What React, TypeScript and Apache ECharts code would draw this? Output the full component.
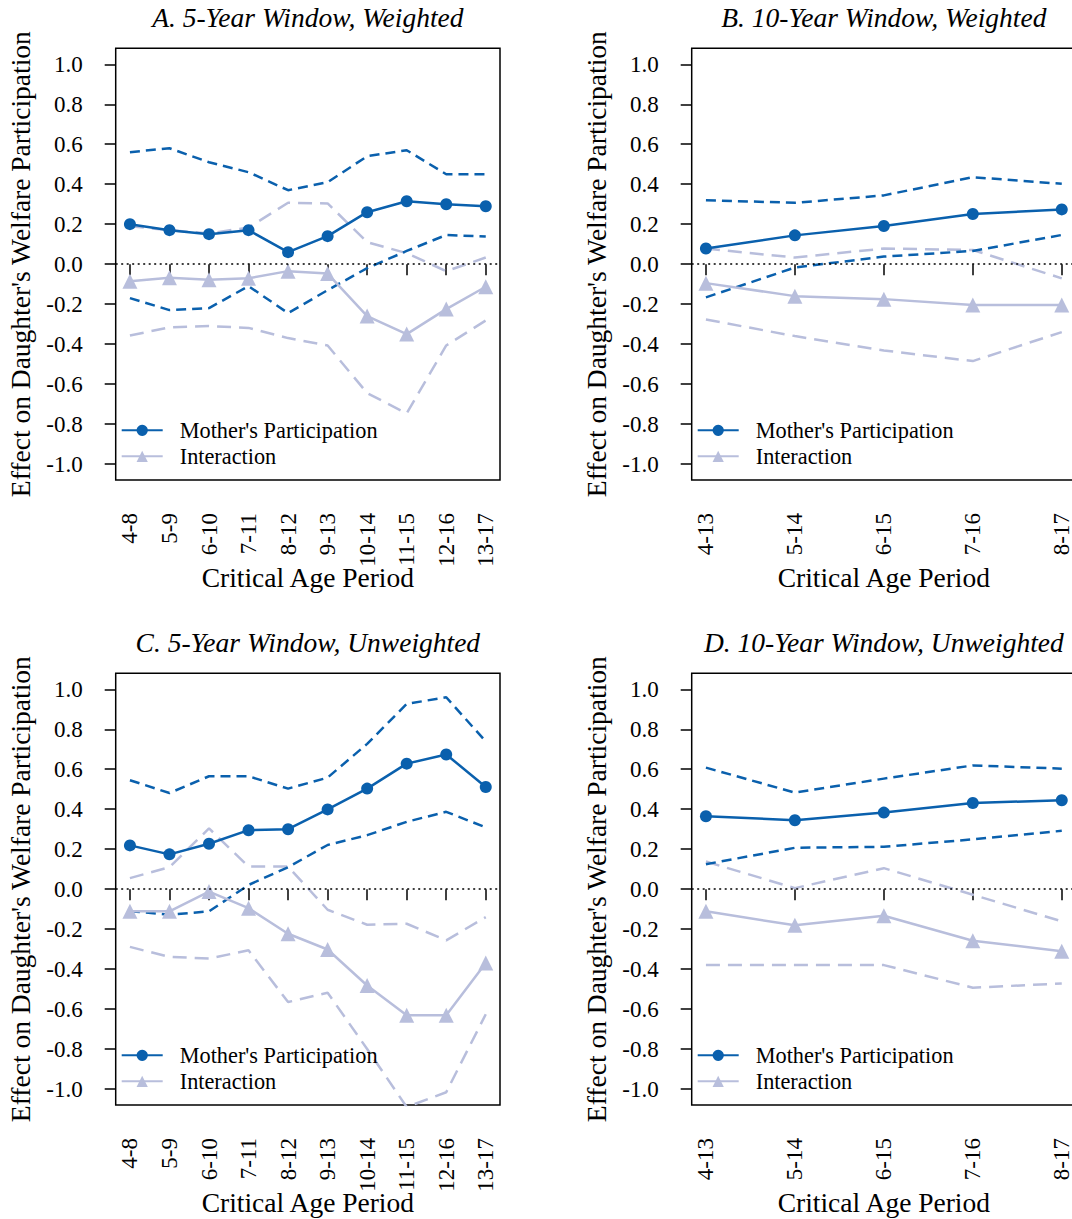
import React, { useEffect, useRef } from "react";
import * as echarts from "echarts";

// ---- categories & ticks ----
const cats5 = ["4-8", "5-9", "6-10", "7-11", "8-12", "9-13", "10-14", "11-15", "12-16", "13-17"];
const cats10 = ["4-13", "5-14", "6-15", "7-16", "8-17"];
const yTicks = [-1.0, -0.8, -0.6, -0.4, -0.2, 0.0, 0.2, 0.4, 0.6, 0.8, 1.0];

const titles = [
  "A. 5-Year Window, Weighted",
  "B. 10-Year Window, Weighted",
  "C. 5-Year Window, Unweighted",
  "D. 10-Year Window, Unweighted",
];
const legendNames = ["Mother's Participation", "Interaction"];
const xTitle = "Critical Age Period";
const yTitle = "Effect on Daughter's Welfare Participation";

// ---- Panel A ----
const aMother = [0.2, 0.17, 0.15, 0.17, 0.06, 0.14, 0.26, 0.315, 0.3, 0.29];
const aMotherHi = [0.56, 0.58, 0.51, 0.46, 0.37, 0.41, 0.54, 0.57, 0.45, 0.45];
const aMotherLo = [-0.17, -0.23, -0.22, -0.11, -0.245, -0.13, -0.02, 0.066, 0.146, 0.138];
const aInter = [-0.085, -0.068, -0.078, -0.071, -0.035, -0.047, -0.26, -0.35, -0.225, -0.113];
const aInterHi = [0.19, 0.17, 0.154, 0.183, 0.307, 0.304, 0.11, 0.055, -0.035, 0.033];
const aInterLo = [-0.357, -0.316, -0.31, -0.319, -0.37, -0.407, -0.645, -0.747, -0.407, -0.282];

// ---- Panel B ----
const bMother = [0.078, 0.144, 0.191, 0.251, 0.274];
const bMotherHi = [0.32, 0.307, 0.344, 0.435, 0.402];
const bMotherLo = [-0.166, -0.017, 0.038, 0.066, 0.146];
const bInter = [-0.095, -0.16, -0.175, -0.205, -0.205];
const bInterHi = [0.078, 0.033, 0.078, 0.071, -0.071];
const bInterLo = [-0.277, -0.36, -0.432, -0.485, -0.34];

// ---- Panel C ----
const cMother = [0.219, 0.174, 0.227, 0.295, 0.3, 0.399, 0.503, 0.628, 0.674, 0.511];
const cMotherHi = [0.545, 0.481, 0.565, 0.565, 0.503, 0.558, 0.727, 0.927, 0.96, 0.739];
const cMotherLo = [-0.11, -0.128, -0.111, 0.021, 0.11, 0.221, 0.27, 0.337, 0.387, 0.309];
const cInter = [-0.111, -0.111, -0.012, -0.095, -0.223, -0.302, -0.482, -0.631, -0.631, -0.369];
const cInterHi = [0.055, 0.11, 0.304, 0.113, 0.113, -0.103, -0.178, -0.173, -0.256, -0.14];
const cInterLo = [-0.289, -0.339, -0.347, -0.306, -0.565, -0.518, -0.8, -1.09, -1.016, -0.626];

// ---- Panel D ----
const dMother = [0.365, 0.345, 0.383, 0.431, 0.445];
const dMotherHi = [0.608, 0.483, 0.553, 0.619, 0.603];
const dMotherLo = [0.125, 0.207, 0.212, 0.249, 0.292];
const dInter = [-0.111, -0.181, -0.133, -0.258, -0.311];
const dInterHi = [0.138, 0.005, 0.105, -0.028, -0.161];
const dInterLo = [-0.38, -0.38, -0.38, -0.493, -0.472];

const DARK = "#0A60AD";
const LIGHT = "#B8BEDC";
const FONT = "Liberation Serif";

const panels = [
  { cats: cats5, m: aMother, mh: aMotherHi, ml: aMotherLo, i: aInter, ih: aInterHi, il: aInterLo },
  { cats: cats10, m: bMother, mh: bMotherHi, ml: bMotherLo, i: bInter, ih: bInterHi, il: bInterLo },
  { cats: cats5, m: cMother, mh: cMotherHi, ml: cMotherLo, i: cInter, ih: cInterHi, il: cInterLo },
  { cats: cats10, m: dMother, mh: dMotherHi, ml: dMotherLo, i: dInter, ih: dInterHi, il: dInterLo },
];

const gridPos = [
  { left: 115.7, top: 48.3 },
  { left: 691.7, top: 48.3 },
  { left: 115.7, top: 673.3 },
  { left: 691.7, top: 673.3 },
];
const GW = 384.3;
const GH = 431.7;

function buildOption() {
  const grid: any[] = [];
  const xAxis: any[] = [];
  const yAxis: any[] = [];
  const series: any[] = [];
  const legend: any[] = [];
  const graphic: any[] = [];

  panels.forEach((p, k) => {
    const n = p.cats.length;
    const pad = (n - 1) * 0.04;
    const xs = p.cats.map((_, j) => j + 1);
    const g = gridPos[k];
    grid.push({
      left: g.left,
      top: g.top,
      width: GW,
      height: GH,
      show: true,
      borderColor: "#000",
      borderWidth: 1.5,
      backgroundColor: "transparent",
      containLabel: false,
      outerBoundsMode: "none",
    });
    xAxis.push({
      type: "value",
      gridIndex: k,
      min: 1 - pad,
      max: n + pad,
      splitLine: { show: false },
      axisLine: { show: false },
      axisTick: { show: true, customValues: xs, length: 11, lineStyle: { color: "#000", width: 1.5 } },
      axisLabel: {
        customValues: xs,
        rotate: 90,
        margin: 33,
        fontSize: 23,
        fontFamily: FONT,
        color: "#000",
        formatter: (v: number) => p.cats[Math.round(v) - 1] ?? "",
      },
      name: xTitle,
      nameLocation: "middle",
      nameGap: 83,
      nameMoveOverlap: false,
      nameTextStyle: { fontSize: 27.5, fontFamily: FONT, color: "#000" },
    });
    yAxis.push({
      type: "value",
      gridIndex: k,
      min: -1.08,
      max: 1.08,
      splitLine: { show: false },
      axisLine: { show: false },
      axisTick: { show: true, customValues: yTicks, length: 11, lineStyle: { color: "#000", width: 1.5 } },
      axisLabel: {
        customValues: yTicks,
        margin: 33,
        fontSize: 23,
        fontFamily: FONT,
        color: "#000",
        formatter: (v: number) => (Math.abs(v) < 1e-9 ? "0.0" : v.toFixed(1)),
      },
      name: yTitle,
      nameLocation: "middle",
      nameRotate: 90,
      nameGap: 81,
      nameMoveOverlap: false,
      nameTextStyle: { fontSize: 27.5, fontFamily: FONT, color: "#000" },
    });

    const pts = (arr: number[]) => arr.map((v, j) => [xs[j], v]);
    const dashed = (name: string, arr: number[], color: string, dash: number[]) => ({
      type: "line",
      name,
      xAxisIndex: k,
      yAxisIndex: k,
      data: pts(arr),
      symbol: "none",
      clip: true,
      lineStyle: { color, width: 2.5, type: dash },
      silent: true,
    });
    series.push({
      ...dashed("Interaction upper " + k, p.ih, LIGHT, [14, 8]),
      markLine: {
        silent: true,
        symbol: ["none", "none"],
        label: { show: false },
        lineStyle: { color: "#000", type: [2, 3.5], width: 1.6 },
        data: [{ yAxis: 0 }],
      },
    });
    series.push(dashed("Interaction lower " + k, p.il, LIGHT, [14, 8]));
    series.push(dashed("Mother upper " + k, p.mh, DARK, [10, 6]));
    series.push(dashed("Mother lower " + k, p.ml, DARK, [10, 6]));
    series.push({
      type: "line",
      name: legendNames[1],
      xAxisIndex: k,
      yAxisIndex: k,
      data: pts(p.i),
      symbol: "triangle",
      symbolSize: 15,
      clip: true,
      itemStyle: { color: LIGHT },
      lineStyle: { color: LIGHT, width: 2.5 },
    });
    series.push({
      type: "line",
      name: legendNames[0],
      xAxisIndex: k,
      yAxisIndex: k,
      data: pts(p.m),
      symbol: "circle",
      symbolSize: 12,
      clip: true,
      itemStyle: { color: DARK },
      lineStyle: { color: DARK, width: 2.5 },
    });

    legend.push({
      data: legendNames,
      orient: "vertical",
      left: g.left + 5,
      top: g.top + 371,
      itemWidth: 41,
      itemHeight: 14,
      itemGap: 4,
      padding: 0,
      selectedMode: false,
      textStyle: {
        fontSize: 22.3,
        fontFamily: FONT,
        color: "#000",
        lineHeight: 22,
        padding: [0, 0, 0, 12],
      },
    });

    graphic.push({
      type: "text",
      x: g.left + GW / 2,
      y: g.top - 31,
      style: {
        text: titles[k],
        fontSize: 27.5,
        fontFamily: FONT,
        fontStyle: "italic",
        fill: "#000",
        align: "center",
        verticalAlign: "middle",
      },
    });
  });

  return {
    animation: false,
    backgroundColor: "#fff",
    grid,
    xAxis,
    yAxis,
    series,
    legend,
    graphic,
  };
}

export default function App() {
  const ref = useRef<HTMLDivElement>(null);
  useEffect(() => {
    if (!ref.current) return;
    const chart = echarts.init(ref.current, undefined, { renderer: "svg" });
    chart.setOption(buildOption() as any);
    return () => chart.dispose();
  }, []);
  return (
    <div
      ref={ref}
      style={{ position: "absolute", left: 0, top: 0, width: 1072, height: 1219, background: "#fff" }}
    />
  );
}
